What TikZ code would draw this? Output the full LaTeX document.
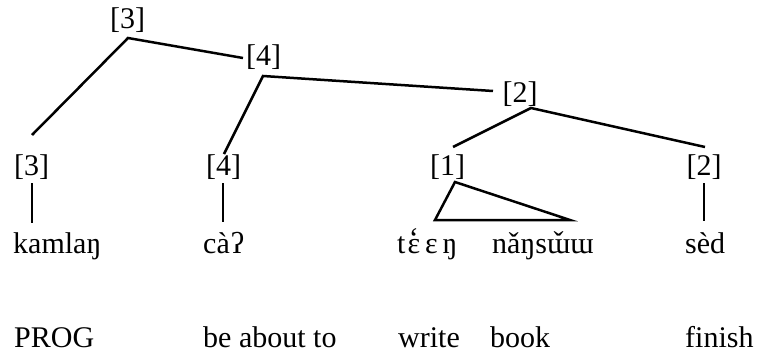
\documentclass[tikz,border=0pt]{standalone}
\usepackage{fontspec}
\setmainfont{Liberation Serif}
\newcommand\diacr[3]{\setbox0\hbox{#3}\hbox to\wd0{\hss#3\hss}\kern-\wd0\hbox to\wd0{\hss\raisebox{#1}{#2}\hss}}
\begin{document}
\begin{tikzpicture}[x=1pt,y=-1pt,
  lbl/.style={inner sep=0pt,anchor=base,font=\fontsize{30pt}{36pt}\selectfont},
  wrd/.style={inner sep=0pt,anchor=base west,font=\fontsize{30pt}{36pt}\selectfont},
  edge/.style={line width=2.5pt,line cap=butt,line join=miter}]
\useasboundingbox (0,0) rectangle (758,356);
% tree labels
\node[lbl] (t3) at (127.5,28) {[3]};
\node[lbl] (m4) at (263.5,65) {[4]};
\node[lbl] (m2) at (520,102) {[2]};
\node[lbl] (b3) at (31.5,175) {[3]};
\node[lbl] (b4) at (223.5,175) {[4]};
\node[lbl] (b1) at (447.5,175) {[1]};
\node[lbl] (b2) at (704,175) {[2]};
% words
\node[wrd] (w1) at (13,253) {kamlaŋ};
\node[wrd] (w2) at (203,253) {cà\kern1ptʔ};
\node[wrd] (w3) at (397,253) {t\kern2pt\diacr{5pt}{\char"60}{ɛ}\kern5ptɛ\kern5ptŋ};
\node[wrd] (w4) at (492,253) {nǎŋs\diacr{1pt}{\char"2C7}{ɯ}ɯ};
\node[wrd] (w5) at (685,253) {sèd};
% glosses
\node[wrd] (g1) at (14,347) {PROG};
\node[wrd] (g2) at (203,347) {be about to};
\node[wrd] (g3) at (398,347) {write};
\node[wrd] (g4) at (490,347) {book};
\node[wrd] (g5) at (685,347) {finish};
% junction coordinates
\coordinate (t3j) at (128,38);
\coordinate (m4in) at (243,58);
\coordinate (m4j) at (263,76);
\coordinate (m2in) at (493,91);
\coordinate (m2j) at (531,108);
\coordinate (b3in) at (32,135);
\coordinate (b4in) at (224,154);
\coordinate (b1in) at (453,147);
\coordinate (b2in) at (705,147);
\coordinate (b3out) at (32,183);
\coordinate (w1in) at (32,223);
\coordinate (b4out) at (223,183);
\coordinate (w2in) at (223,222);
\coordinate (b2out) at (704,183);
\coordinate (w5in) at (704,221);
\coordinate (b1out) at (455,182);
\coordinate (w3in) at (435,220);
\coordinate (w4in) at (570,220);
% connectors
\draw[edge] (b3in) -- (t3j) -- (m4in);
\draw[edge] (b4in) -- (m4j) -- (m2in);
\draw[edge] (b1in) -- (m2j) -- (b2in);
\draw[edge] (b3out) -- (w1in);
\draw[edge] (b4out) -- (w2in);
\draw[edge] (b2out) -- (w5in);
\draw[edge] (b1out) -- (w3in) -- (w4in) -- cycle;
\end{tikzpicture}
\end{document}
